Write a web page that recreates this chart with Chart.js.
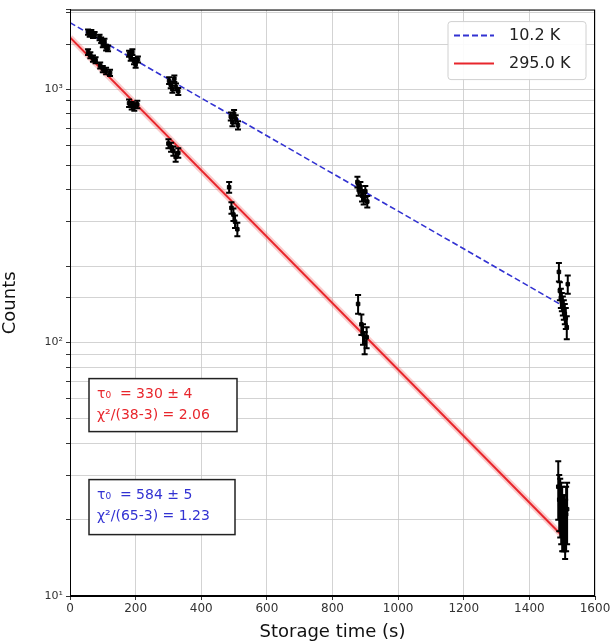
<!DOCTYPE html>
<html>
<head>
<meta charset="utf-8">
<script src="https://cdn.jsdelivr.net/npm/chart.js@4.4.0/dist/chart.umd.min.js"></script>
<style>
html, body { margin: 0; padding: 0; background: #fff; }
</style>
</head>
<body>
<canvas id="myChart" width="613" height="643"></canvas>
<script>

// measured points, 10.2 K
var lowTime = [55, 60, 65, 70, 75,
  90, 95, 100, 105, 110, 116,
  180, 185, 190, 195, 200, 207,
  302, 307, 312, 318, 323, 330,
  490, 495, 500, 505, 512,
  876, 880, 885, 890, 895, 900, 906,
  1490, 1493, 1496, 1499, 1502, 1505, 1508, 1511, 1514, 1517]
var lowCounts = [1680, 1650, 1670, 1630, 1640,
  1600, 1560, 1500, 1540, 1460, 1450,
  1380, 1330, 1400, 1290, 1250, 1310,
  1080, 1040, 1000, 1100, 1020, 980,
  780, 740, 800, 760, 720,
  430, 400, 410, 380, 370, 395, 360,
  190, 160, 150, 145, 140, 135, 130, 125, 115, 170]
var lowErr = [40, 40, 40, 40, 40,
  39, 39, 38, 39, 38, 38,
  37, 36, 37, 36, 35, 36,
  33, 32, 32, 33, 32, 31,
  28, 27, 28, 28, 27,
  21, 20, 20, 20, 19, 20, 19,
  16, 13, 13, 12, 12, 12, 12, 12, 12, 14]

// measured points, 295.0 K
var roomTime = [55, 62, 70, 78,
  92, 100, 110, 122,
  180, 188, 196, 205,
  300, 308, 315, 322, 330,
  485, 492, 498, 503, 510,
  878, 888, 893, 898, 904,
  1488, 1491, 1494, 1497, 1500, 1503, 1506, 1509, 1512, 1515]
var roomCounts = [1400, 1360, 1320, 1300,
  1240, 1200, 1180, 1160,
  880, 860, 850, 870,
  610, 590, 570, 540, 560,
  410, 340, 320, 300, 280,
  142, 118, 108, 100, 105,
  27, 24, 23, 22, 21, 20, 20, 19, 21, 22]
var roomErr = [37, 37, 36, 36,
  35, 35, 34, 34,
  30, 29, 29, 30,
  25, 24, 24, 23, 24,
  20, 18, 18, 17, 17,
  12, 11, 10, 10, 10,
  7, 6, 6, 6, 6, 5, 5, 5, 6, 6]

// exponential fits (straight on the log axis)
var lowFitTime = [0, 1505]
var lowFitCounts = [1830, 139]
var roomFitTime = [0, 1500]
var roomFitCounts = [1600, 17.3]

var seriesLabels = ['10.2 K', '295.0 K']
var fitTau = ['τ₀  = 330 ± 4', 'τ₀  = 584 ± 5']
var fitChi = ['χ²/(38-3) = 2.06', 'χ²/(65-3) = 1.23']
var powerLabels = {10: '10¹', 100: '10²', 1000: '10³'}

var FONT = "'DejaVu Sans', sans-serif"
var BLUE = '#3232d2'
var RED = '#e8262c'

function pts(xs, ys) {
  var out = []
  for (var i = 0; i < xs.length; i++) out.push({x: xs[i], y: ys[i]})
  return out
}

var errorBars = {
  id: 'errorBars',
  afterDatasetsDraw: function(chart) {
    var ctx = chart.ctx, xs = chart.scales.x, ys = chart.scales.y
    chart.data.datasets.forEach(function(ds) {
      if (!ds.errors) return
      ctx.save()
      ctx.strokeStyle = '#000'
      ctx.lineWidth = 2
      ds.data.forEach(function(p, j) {
        var e = ds.errors[j]
        var x = xs.getPixelForValue(p.x)
        var y1 = ys.getPixelForValue(p.y - e)
        var y2 = ys.getPixelForValue(p.y + e)
        ctx.beginPath()
        ctx.moveTo(x, y1); ctx.lineTo(x, y2)
        ctx.moveTo(x - 3, y1); ctx.lineTo(x + 3, y1)
        ctx.moveTo(x - 3, y2); ctx.lineTo(x + 3, y2)
        ctx.stroke()
      })
      ctx.restore()
    })
  }
}

function textBox(ctx, x, y, w, h, lines, color) {
  ctx.fillStyle = '#fff'
  ctx.fillRect(x, y, w, h)
  ctx.strokeStyle = '#222'
  ctx.lineWidth = 1.5
  ctx.strokeRect(x, y, w, h)
  ctx.fillStyle = color
  ctx.font = '14px ' + FONT
  ctx.textBaseline = 'middle'
  ctx.textAlign = 'left'
  ctx.fillText(lines[0], x + 8, y + 16)
  ctx.fillText(lines[1], x + 8, y + 37)
}

var decorations = {
  id: 'decorations',
  afterDraw: function(chart) {
    var ctx = chart.ctx, a = chart.chartArea
    ctx.save()
    // frame
    ctx.strokeStyle = '#000'
    ctx.lineWidth = 1
    ctx.strokeRect(a.left + 0.5, a.top + 0.5, a.right - a.left - 1, a.bottom - a.top - 1)

    // legend
    var lx = a.right - 147, ly = a.top + 12
    ctx.fillStyle = 'rgba(255,255,255,0.9)'
    ctx.strokeStyle = '#d0d0d0'
    ctx.lineWidth = 1
    ctx.beginPath()
    ctx.roundRect(lx, ly, 138, 58, 3)
    ctx.fill(); ctx.stroke()
    var items = [chart.data.datasets[2], chart.data.datasets[3]]
    items.forEach(function(ds, i) {
      var yy = ly + 14 + i * 28
      ctx.strokeStyle = ds.borderColor
      ctx.lineWidth = 2
      ctx.setLineDash(ds.borderDash || [])
      ctx.beginPath()
      ctx.moveTo(lx + 6, yy); ctx.lineTo(lx + 46, yy)
      ctx.stroke()
      ctx.setLineDash([])
      ctx.fillStyle = '#222'
      ctx.font = '16px ' + FONT
      ctx.textBaseline = 'middle'
      ctx.textAlign = 'left'
      ctx.fillText(ds.label, lx + 61, yy)
    })

    // fit result boxes
    textBox(ctx, a.left + 19, a.top + 369, 148, 53, [fitTau[0], fitChi[0]], RED)
    textBox(ctx, a.left + 19, a.top + 470, 146, 55, [fitTau[1], fitChi[1]], BLUE)
    ctx.restore()
  }
}

var ctx = document.getElementById('myChart').getContext('2d')

var chart = new Chart(ctx, {
  type: 'scatter',
  data: {
    datasets: [
      {label: 'data 10.2 K', data: pts(lowTime, lowCounts), errors: lowErr,
       backgroundColor: '#000', borderColor: '#000', pointStyle: 'rect', pointRadius: 2.5, order: 0},
      {label: 'data 295.0 K', data: pts(roomTime, roomCounts), errors: roomErr,
       backgroundColor: '#000', borderColor: '#000', pointStyle: 'rect', pointRadius: 2.5, order: 0},
      {label: seriesLabels[0], data: pts(lowFitTime, lowFitCounts), showLine: true,
       borderColor: BLUE, borderWidth: 1.6, borderDash: [6, 3], pointRadius: 0, order: 2},
      {label: seriesLabels[1], data: pts(roomFitTime, roomFitCounts), showLine: true,
       borderColor: RED, borderWidth: 2, pointRadius: 0, order: 1},
      {label: 'band', data: pts(roomFitTime, roomFitCounts), showLine: true,
       borderColor: 'rgba(240,110,110,0.35)', borderWidth: 6, pointRadius: 0, order: 3}
    ]
  },
  options: {
    responsive: false,
    animation: false,
    layout: {padding: {left: 0, right: 18, top: 6, bottom: 0}},
    plugins: {legend: {display: false}, tooltip: {enabled: false}},
    scales: {
      x: {
        type: 'linear', min: 0, max: 1600,
        afterFit: function(s) { s.height = 47 },
        ticks: {stepSize: 200, color: '#333', font: {family: FONT, size: 12}, padding: 2,
                callback: function(v) { return String(v) }},
        grid: {color: '#c8c8c8', lineWidth: 0.8, tickColor: '#000', tickLength: 4},
        border: {color: '#000'},
        title: {display: true, text: 'Storage time (s)', color: '#111',
                font: {family: FONT, size: 18}, padding: {top: 0, bottom: 0}}
      },
      y: {
        type: 'logarithmic', min: 10, max: 2060,
        afterFit: function(s) { s.width = 70 },
        ticks: {
          autoSkip: false, color: '#333', font: {family: FONT, size: 11}, padding: 3,
          callback: function(v) { return powerLabels[v] || '' }
        },
        grid: {color: '#c8c8c8', lineWidth: 0.8, tickColor: '#000', tickLength: 4},
        border: {color: '#000'},
        title: {display: true, text: 'Counts', color: '#111',
                font: {family: FONT, size: 18}, padding: {top: 0, bottom: 4}}
      }
    }
  },
  plugins: [errorBars, decorations]
})

</script>
</body>
</html>
